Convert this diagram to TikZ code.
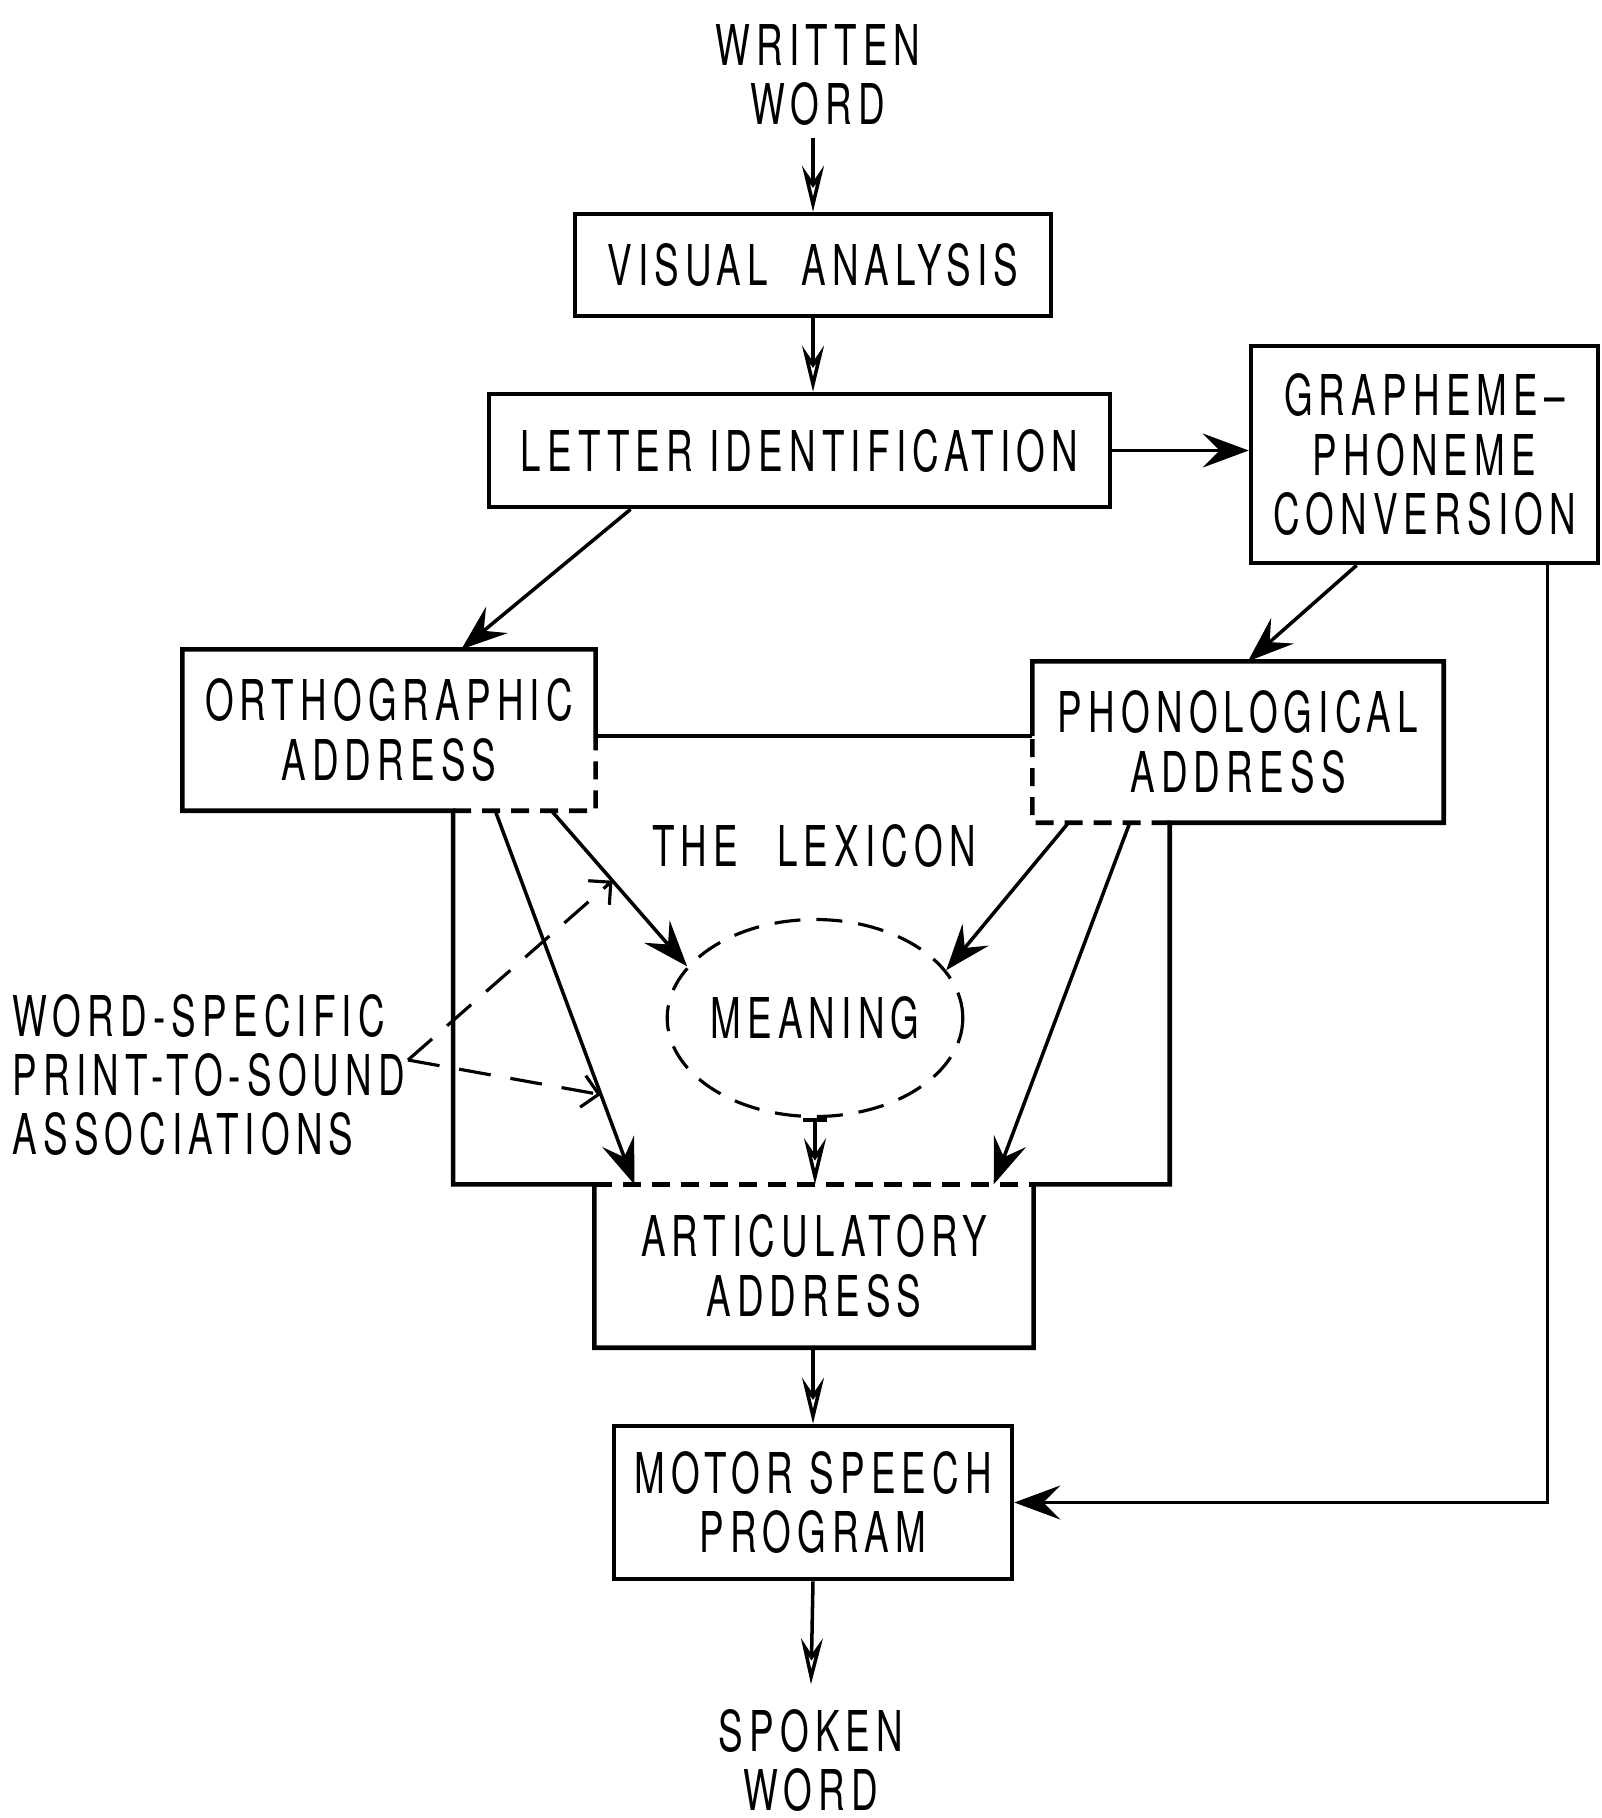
\documentclass[tikz,border=0pt]{standalone}
\usepackage{fontspec}
\setmainfont{TeX Gyre Heros}[FakeStretch=0.655, LetterSpace=11]
\usetikzlibrary{positioning}
\usetikzlibrary{shapes.geometric}
\usetikzlibrary{arrows.meta}
\usetikzlibrary{calc}
\tikzset{
	every node/.style = {font=\fontsize{16}{16.8}\selectfont, align=center},
	box/.style = {draw, line width=1.3pt, inner sep=0pt},
	openbox/.style = {inner sep=0pt},
	word/.style = {inner sep=1.2mm},
	meaningnode/.style = {ellipse, draw, line width=0.9pt, dash pattern=on 2.6mm off 1.6mm, inner sep=0pt, minimum width=2.84cm, minimum height=1.97cm},
	lexline/.style = {line width=1.3pt},
	lexdash/.style = {line width=1.3pt, dash pattern=on 1.8mm off 1.1mm},
	link/.style = {line width=1pt, -{Stealth[length=4.6mm, width=3.4mm, inset=1.7mm]}},
	feed/.style = {line width=1pt, -{Stealth[open, length=4.6mm, width=2.2mm, inset=1.6mm]}},
	assoc/.style = {line width=0.9pt, dash pattern=on 3.2mm off 2mm, -{Straight Barb[length=1.6mm, width=3.2mm]}}
}

\begin{document}
\begin{tikzpicture}
	\useasboundingbox (0,0) rectangle (16.02,-18.18);
	% in and out
	\node[word] (written) at (8.18,-0.75) {WRITTEN\\WORD};
	\node[word] (spoken) at (8.11,-17.60) {SPOKEN\\WORD};

	% boxes
	\node[box, minimum width=4.76cm, minimum height=1.02cm] (visual) at (8.13,-2.65) {VISUAL\hspace{0.3em} ANALYSIS};
	\node[box, minimum width=6.21cm, minimum height=1.13cm] (letter) at (7.995,-4.505) {LETTER IDENTIFICATION};
	\node[box, minimum width=3.47cm, minimum height=2.17cm] (graph) at (14.245,-4.545) {GRAPHEME--\\PHONEME\\CONVERSION};
	\node[openbox, minimum width=4.12cm, minimum height=1.60cm] (ortho) at (3.89,-7.30) {ORTHOGRAPHIC\\ADDRESS};
	\node[openbox, minimum width=4.10cm, minimum height=1.60cm] (phono) at (12.38,-7.42) {PHONOLOGICAL\\ADDRESS};
	\node[openbox, minimum width=4.38cm, minimum height=1.62cm] (artic) at (8.14,-12.66) {ARTICULATORY\\ADDRESS};
	\node[box, minimum width=3.98cm, minimum height=1.53cm] (motor) at (8.13,-15.025) {MOTOR SPEECH\\PROGRAM};
	\node[meaningnode] (meaning) at (8.15,-10.18) {MEANING};
	\node (lexicon) at (8.14,-8.46) {THE\hspace{0.4em} LEXICON};
	\node[align=left, anchor=west, inner sep=0pt] (assoc) at (0.12,-10.75) {WORD-SPECIFIC\\PRINT-TO-SOUND\\ASSOCIATIONS};

	% the lexicon outline
	\coordinate (lexO) at ($(ortho.south west)!0.655!(ortho.south east)$);
	\coordinate (lexP) at ($(phono.south west)!0.334!(phono.south east)$);
	\coordinate (lexT) at (0,-7.36);
	\draw[lexline] (ortho.east |- lexT) -- (ortho.north east) -- (ortho.north west) -- (ortho.south west) -- (lexO)
		-- (lexO |- artic.north) -- (artic.north west) -- (artic.south west) -- (artic.south east) -- (artic.north east)
		-- (lexP |- artic.north) -- (lexP) -- (phono.south east) -- (phono.north east) -- (phono.north west) -- (phono.west |- lexT);
	\draw[lexline] (ortho.east |- lexT) -- (phono.west |- lexT);
	\draw[lexdash] (lexO) -- (ortho.south east) -- (ortho.east |- lexT);
	\draw[lexdash] (lexP) -- (phono.south west) -- (phono.west |- lexT);
	\draw[lexdash] (artic.north west) -- (artic.north east);

	% routes
	\draw[feed] (visual.north |- written.south) -- (visual.north);
	\draw[feed] (visual.south) -- (visual.south |- letter.north);
	\draw[link] (letter) -- (graph.west |- letter);
	\draw[link] ($(letter.south west)!0.23!(letter.south east)$) -- ($(ortho.north west)!0.675!(ortho.north east)$);
	\draw[link] ($(graph.south west)!0.307!(graph.south east)$) -- ($(phono.north west)!0.524!(phono.north east)$);
	\coordinate (om) at ($(ortho.south west)!0.893!(ortho.south east)$);
	\coordinate (oa) at ($(ortho.south west)!0.757!(ortho.south east)$);
	\coordinate (pm) at ($(phono.south west)!0.088!(phono.south east)$);
	\coordinate (pa) at ($(phono.south west)!0.237!(phono.south east)$);
	\draw[link] (om) -- (meaning.158);
	\draw[link] (oa) -- ($(artic.north west)!0.091!(artic.north east)$);
	\draw[link] (pm) -- (meaning.20);
	\draw[link] (pa) -- ($(artic.north west)!0.909!(artic.north east)$);
	\draw[line width=1pt, arrows={Bar[width=2.4mm]-Stealth[open, length=4.6mm, width=2.2mm, inset=1.6mm]}] (meaning.south) -- (meaning.south |- artic.north);
	\draw[feed] (artic.south -| motor.north) -- (motor.north);
	\draw[link] ($(graph.south west)!0.85!(graph.south east)$) |- (motor.east);
	\draw[feed] (motor.south) -- ([yshift=1.2mm]spoken.north);

	% word-specific associations
	\coordinate (wsj) at (4.08,-10.60);
	\draw[assoc] (wsj) -- ($(om)!0.45!(meaning.158)$);
	\draw[assoc] (wsj) -- ($(oa)!0.76!($(artic.north west)!0.091!(artic.north east)$)$);
\end{tikzpicture}
\end{document}
